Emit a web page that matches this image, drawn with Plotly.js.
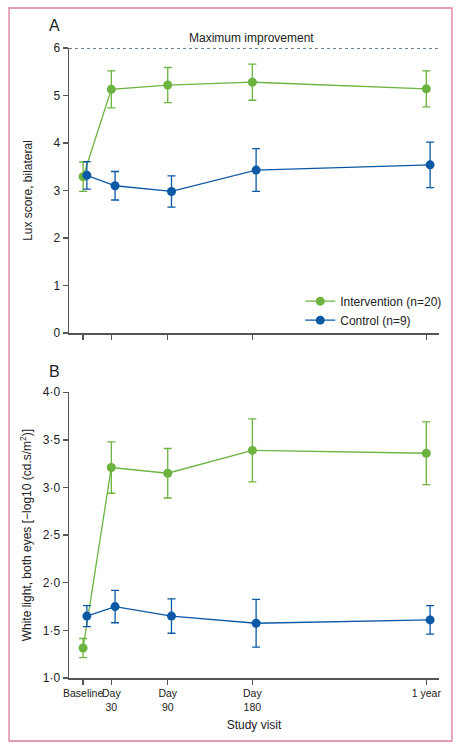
<!DOCTYPE html>
<html>
<head>
<meta charset="utf-8">
<script src="https://cdn.plot.ly/plotly-3.0.1.min.js"></script>
<style>
html,body{margin:0;padding:0;background:#fff;}
#chart{width:461px;height:751px;}
</style>
</head>
<body>
<div id="chart"></div>
<script>
// ---- data ----
const visitDays = [0, 30, 90, 180, 365];
const visitLabels = ["Baseline", "Day<br>30", "Day<br>90", "Day<br>180", "1 year"];

// Panel A: Lux score, bilateral
const luxIntervention = [3.29, 5.13, 5.22, 5.28, 5.14];
const luxInterventionErr = [0.31, 0.39, 0.37, 0.38, 0.38];
const luxControl = [3.32, 3.10, 2.98, 3.43, 3.54];
const luxControlErr = [0.29, 0.30, 0.33, 0.45, 0.48];
const luxMax = 6;

// Panel B: White light, both eyes
const wlIntervention = [1.315, 3.21, 3.15, 3.39, 3.36];
const wlInterventionErr = [0.10, 0.27, 0.26, 0.33, 0.33];
const wlControl = [1.65, 1.75, 1.65, 1.575, 1.61];
const wlControlErr = [0.11, 0.17, 0.18, 0.25, 0.15];

const luxTicks = [0, 1, 2, 3, 4, 5, 6];
const wlTicks = [1.0, 1.5, 2.0, 2.5, 3.0, 3.5, 4.0];
const wlTickText = ["1·0", "1·5", "2·0", "2·5", "3·0", "3·5", "4·0"];

const seriesNames = ["Intervention (n=20)", "Control (n=9)"];

// ---- styling ----
const GREEN = "#6cb33f";
const BLUE = "#0b58a5";
const AXIS = "#555555";
const FONT = "Liberation Sans, Arial, sans-serif";
const dodge = 4; // small horizontal offset of control series (days)
const xCtrl = visitDays.map(d => d + dodge);

function tr(x, y, err, color, name, xa, ya, show) {
  return {
    x: x, y: y, type: "scatter", mode: "lines+markers",
    name: name, showlegend: show, legendgroup: name,
    xaxis: xa, yaxis: ya,
    line: {color: color, width: 1.3},
    marker: {color: color, size: 9},
    error_y: {type: "data", array: err, visible: true, color: color, thickness: 1.3, width: 4}
  };
}

const data = [
  tr(visitDays, luxIntervention, luxInterventionErr, GREEN, seriesNames[0], "x", "y", true),
  tr(xCtrl, luxControl, luxControlErr, BLUE, seriesNames[1], "x", "y", true),
  tr(visitDays, wlIntervention, wlInterventionErr, GREEN, seriesNames[0], "x2", "y2", false),
  tr(xCtrl, wlControl, wlControlErr, BLUE, seriesNames[1], "x2", "y2", false)
];

const xRange = [-15, 378.5];
const axCommon = {
  showgrid: false, zeroline: false, showline: true, linecolor: AXIS, linewidth: 1.5,
  ticks: "outside", ticklen: 5, tickwidth: 1.3, tickcolor: AXIS,
  tickfont: {family: FONT, size: 12, color: "#222"}
};

const layout = {
  width: 461, height: 751,
  margin: {l: 69, r: 22, t: 48, b: 73},
  paper_bgcolor: "#fff", plot_bgcolor: "#fff",
  font: {family: FONT, size: 12, color: "#222"},
  showlegend: true,
  legend: {
    x: 0.625, y: 0.545, xanchor: "left", yanchor: "bottom",
    bgcolor: "rgba(0,0,0,0)", font: {family: FONT, size: 12, color: "#222"},
    tracegroupgap: 0, itemwidth: 30
  },
  xaxis: Object.assign({}, axCommon, {
    domain: [0, 1], anchor: "y", range: xRange,
    tickvals: visitDays, showticklabels: false
  }),
  yaxis: Object.assign({}, axCommon, {
    domain: [0.5476, 1], anchor: "x", range: [0, 6],
    tickvals: luxTicks,
    title: {text: "Lux score, bilateral", font: {family: FONT, size: 12}, standoff: 18}
  }),
  xaxis2: Object.assign({}, axCommon, {
    domain: [0, 1], anchor: "y2", range: xRange,
    tickvals: visitDays, ticktext: visitLabels, tickangle: 0,
    tickfont: {family: FONT, size: 10.5, color: "#222"},
    title: {text: "Study visit", font: {family: FONT, size: 12}, standoff: 9}
  }),
  yaxis2: Object.assign({}, axCommon, {
    domain: [0, 0.4535], anchor: "x2", range: [1, 4],
    tickvals: wlTicks, ticktext: wlTickText,
    title: {text: "White light, both eyes [\u2212log10 (cd.s/m<sup>2</sup>)]", font: {family: FONT, size: 12}, standoff: 8}
  }),
  shapes: [
    {type: "line", xref: "paper", yref: "y", x0: 0, x1: 1, y0: luxMax, y1: luxMax,
     line: {color: "#35597f", width: 1.3, dash: "3px,3px"}, layer: "below"},
    {type: "rect", xref: "paper", yref: "paper", x0: -0.162, x1: 1.035, y0: -0.1, y1: 1.0635,
     line: {color: "#d97aa0", width: 1.3}, fillcolor: "rgba(0,0,0,0)"}
  ],
  annotations: [
    {text: "Maximum improvement", xref: "paper", yref: "paper", x: 0.492, y: 1.016,
     xanchor: "center", yanchor: "middle", showarrow: false, font: {family: FONT, size: 12}},
    {text: "A", xref: "paper", yref: "paper", x: -0.038, y: 1.035,
     xanchor: "center", yanchor: "middle", showarrow: false, font: {family: FONT, size: 16}},
    {text: "B", xref: "paper", yref: "paper", x: -0.038, y: 0.486,
     xanchor: "center", yanchor: "middle", showarrow: false, font: {family: FONT, size: 16}}
  ]
};

Plotly.newPlot("chart", data, layout, {displayModeBar: false, staticPlot: true});
</script>
</body>
</html>
